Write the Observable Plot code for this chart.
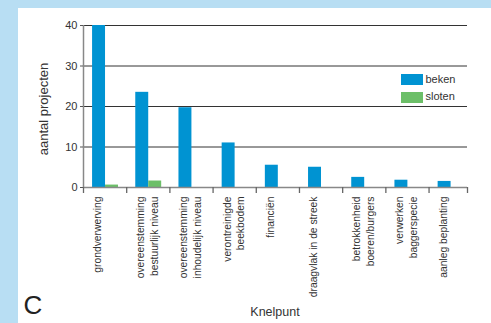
<!DOCTYPE html>
<html>
<head>
<meta charset="utf-8">
<script src="https://cdn.jsdelivr.net/npm/d3@7"></script>
<script src="https://cdn.jsdelivr.net/npm/@observablehq/plot@0.6"></script>
<style>
  html, body { margin: 0; padding: 0; }
  body { width: 491px; height: 323px; overflow: hidden; background: #b8def3; font-family: "Liberation Sans", Arial, sans-serif; }
  #wrap { position: relative; width: 491px; height: 323px; }
  #panel { position: absolute; left: 18px; top: 8px; width: 473px; height: 315px; background: #fff; }
  #chart { position: absolute; left: 0; top: 0; }
  .t { position: absolute; white-space: nowrap; color: #333; line-height: 1; }
  .sw { position: absolute; width: 22px; height: 11px; }
</style>
</head>
<body>
<div id="wrap">
  <div id="panel"></div>
  <div id="chart"></div>
  <div class="t" id="ytitle" style="font-size:13px;left:43px;top:109px;transform:translate(-50%,-50%) rotate(-90deg);">aantal projecten</div>
  <div class="t" style="font-size:12.5px;left:275px;top:306px;transform:translateX(-50%);">Knelpunt</div>
  <div class="t" style="font-size:26px;left:23.5px;top:292px;color:#222;">C</div>
  <div id="legend"></div>
</div>
<script>
const categories = [
  "grondverwerving",
  "overeenstemming\nbestuurlijk niveau",
  "overeenstemming\ninhoudelijk niveau",
  "verontreinigde\nbeekbodem",
  "financiën",
  "draagvlak in de streek",
  "betrokkenheid\nboeren/burgers",
  "verwerken\nbaggerspecie",
  "aanleg beplanting"
];
const series = ["beken", "sloten"];
const beken  = [40, 23.5, 19.7, 11, 5.5, 5, 2.5, 1.8, 1.5];
const sloten = [0.6, 1.6, 0, 0, 0, 0, 0, 0, 0];
const yTicks = [0, 10, 20, 30, 40];
const colors = ["#0093d2", "#6cbf68"];

const values = {beken, sloten};
const rows = [];
categories.forEach((c, i) => {
  series.forEach((s, j) => {
    rows.push({i, category: c, series: s, value: values[s][i], j});
  });
});

const xMax = 8.89;
const xTicks = d3.range(0, categories.length).concat([xMax]);

const chart = Plot.plot({
  width: 491,
  height: 323,
  marginLeft: 83,
  marginRight: 24,
  marginTop: 25,
  marginBottom: 136,
  style: {background: "transparent", fontFamily: "'Liberation Sans', Arial, sans-serif", color: "#333", overflow: "visible"},
  x: {domain: [0, xMax], axis: null},
  y: {domain: [0, 40], axis: null},
  color: {domain: series, range: colors},
  marks: [
    Plot.gridY(yTicks.filter(d => d > 0), {stroke: "#333", strokeOpacity: 1, strokeWidth: 1}),
    Plot.rectY(rows, {
      x1: d => d.i + 0.21 + d.j * 0.3,
      x2: d => d.i + 0.51 + d.j * 0.3,
      y: "value",
      fill: "series"
    }),
    Plot.ruleX([0], {stroke: "#888", strokeWidth: 1.5}),
    Plot.ruleY([0], {stroke: "#888", strokeWidth: 1.5}),
    Plot.axisY({ticks: yTicks, tickSize: 3, tickPadding: 3, label: null, fontSize: 11, stroke: "#555"}),
    Plot.axisX({ticks: xTicks, tickSize: 6, tickFormat: () => "", label: null, stroke: "#666", strokeWidth: 1.3}),
    Plot.text(categories, {
      x: (d, i) => i + 0.5,
      frameAnchor: "bottom",
      text: d => d,
      rotate: -90,
      textAnchor: "end",
      lineAnchor: "top",
      lineHeight: 1.3,
      dx: -13.5,
      dy: 9,
      fontSize: 10.3,
      fill: "#333"
    })
  ]
});
document.getElementById("chart").appendChild(chart);

const legend = document.getElementById("legend");
series.forEach((s, k) => {
  const sw = document.createElement("div");
  sw.className = "sw";
  sw.style.left = "401px";
  sw.style.top = (74 + k * 17.7) + "px";
  sw.style.background = colors[k];
  legend.appendChild(sw);
  const t = document.createElement("div");
  t.className = "t";
  t.style.fontSize = "11px";
  t.style.left = "425.5px";
  t.style.top = (73.5 + k * 17.7) + "px";
  t.textContent = s;
  legend.appendChild(t);
});
</script>
</body>
</html>
